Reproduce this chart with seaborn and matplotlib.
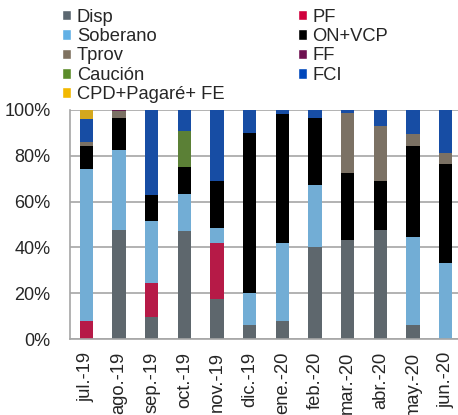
import numpy as np
import matplotlib
matplotlib.use("Agg")
import matplotlib.pyplot as plt
from matplotlib.patches import Patch
from matplotlib.ticker import FixedLocator, PercentFormatter
import seaborn as sns

months = ["jul.-19", "ago.-19", "sep.-19", "oct.-19", "nov.-19", "dic.-19",
          "ene.-20", "feb.-20", "mar.-20", "abr.-20", "may.-20", "jun.-20"]

disp = [0, 47.7, 9.7, 47.0, 17.4, 5.9, 7.8, 40.0, 43.3, 47.7, 6.1, 0]
pf = [8.0, 0, 14.9, 0, 24.5, 0, 0, 0, 0, 0, 0, 0]
soberano = [66.1, 34.6, 27.1, 16.1, 6.4, 14.2, 34.2, 27.2, 0, 0, 38.4, 33.1]
on_vcp = [10.2, 14.0, 11.0, 12.0, 20.7, 69.9, 56.4, 29.4, 29.2, 21.4, 39.8, 43.5]
tprov = [1.5, 3.2, 0, 0, 0, 0, 0, 0, 26.0, 23.9, 5.2, 4.7]
ff = [0, 0.5, 0, 0, 0, 0, 0, 0, 0, 0, 0, 0]
caucion = [0, 0, 0, 15.8, 0, 0, 0, 0, 0, 0, 0, 0]
fci = [10.2, 0, 37.3, 9.1, 31.0, 10.0, 1.6, 3.4, 1.5, 7.0, 10.5, 18.7]
cpd = [4.0, 0, 0, 0, 0, 0, 0, 0, 0, 0, 0, 0]

# stacking order (bottom to top) = legend reading order, row by row
series = [
    ("Disp", disp, "#5b6770"),
    ("PF", pf, "#d0003c"),
    ("Soberano", soberano, "#62b0e5"),
    ("ON+VCP", on_vcp, "#000000"),
    ("Tprov", tprov, "#7f7260"),
    ("FF", ff, "#6e1050"),
    ("Caución", caucion, "#5b8c2a"),
    ("FCI", fci, "#0047bb"),
    ("CPD+Pagaré+ FE", cpd, "#f2b800"),
]

sns.set_style("white")
plt.rcParams["font.family"] = ["Liberation Sans", "DejaVu Sans"]

fig = plt.figure(figsize=(4.58, 4.15), dpi=100)
ax = fig.add_axes([0.1528, 0.1831, 0.856, 0.552])

bottom = np.zeros(len(months))
for name, vals, color in series:
    sns.barplot(x=months, y=vals, order=months, bottom=bottom, color=color,
                width=0.4, linewidth=0, ax=ax, errorbar=None)
    bottom = bottom + np.array(vals)

ax.set_ylim(0, 100)
ax.set_xlim(-0.5, len(months) - 0.5)
ax.set_yticks(range(0, 101, 20))
ax.yaxis.set_major_formatter(PercentFormatter(decimals=0))
ax.yaxis.grid(True, color="#a6a6a6", linewidth=1.2)
ax.set_axisbelow(True)

ax.set_xticks(range(len(months)))
ax.set_xticklabels(months, rotation=90)
ax.xaxis.set_minor_locator(FixedLocator(np.arange(-0.5, len(months), 1)))
ax.tick_params(axis="x", which="major", length=0, labelsize=13.2, pad=9)
ax.tick_params(axis="x", which="minor", length=4, color="#a6a6a6", width=1.2)
ax.tick_params(axis="y", length=4, color="#a6a6a6", width=1.2, labelsize=13, pad=10)
ax.set_xlabel("")
ax.set_ylabel("")

for side in ["top", "right"]:
    ax.spines[side].set_visible(False)
for side in ["left", "bottom"]:
    ax.spines[side].set_color("#a6a6a6")
    ax.spines[side].set_linewidth(1.2)

# legend: matplotlib fills columns first, so reorder
handles = {name: Patch(facecolor=color, label=name) for name, _, color in series}
left_col = ["Disp", "Soberano", "Tprov", "Caución", "CPD+Pagaré+ FE"]
right_col = ["PF", "ON+VCP", "FF", "FCI"]
order = left_col + right_col
fig.legend(handles=[handles[n] for n in order], labels=order, ncol=2,
           loc="upper left", bbox_to_anchor=(0.108, 1.01), frameon=False,
           fontsize=13.2, handlelength=0.5, handleheight=0.5, handletextpad=0.3,
           labelspacing=0.13, columnspacing=4.0, borderpad=0.2)

fig.savefig("out.png", dpi=100)
